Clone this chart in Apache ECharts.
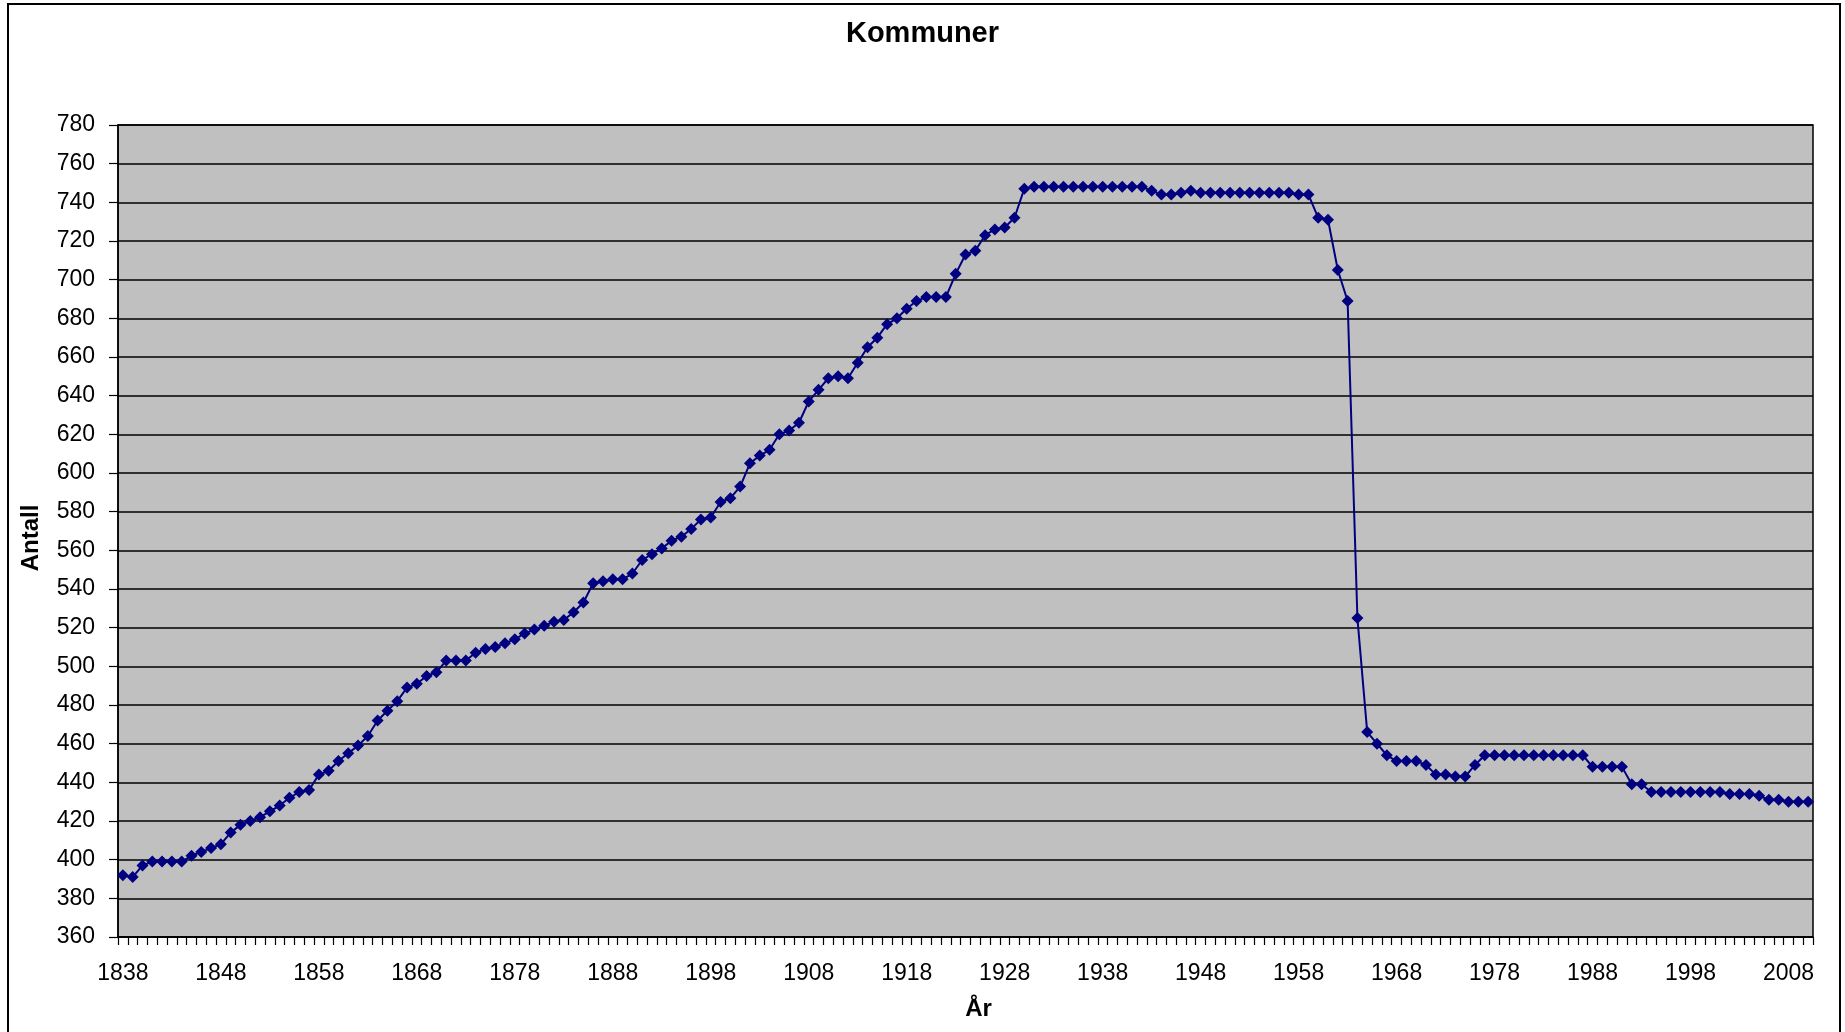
<!DOCTYPE html>
<html>
<head>
    <meta charset="utf-8"/>
    <title>Kommuner</title>
    <style type="text/css">
        html, body { margin: 0; padding: 0; background: #fff; }
        #main { width: 1845px; height: 1032px; }
    </style>
    <script type="text/javascript" src="https://cdn.jsdelivr.net/npm/echarts@6/dist/echarts.min.js"></script>
</head>
<body>
<div id="main"></div>
<script type="text/javascript">
    // år (kategorier)
    var years = [
        '1838','1839','1840','1841','1842','1843','1844','1845','1846','1847',
        '1848','1849','1850','1851','1852','1853','1854','1855','1856','1857',
        '1858','1859','1860','1861','1862','1863','1864','1865','1866','1867',
        '1868','1869','1870','1871','1872','1873','1874','1875','1876','1877',
        '1878','1879','1880','1881','1882','1883','1884','1885','1886','1887',
        '1888','1889','1890','1891','1892','1893','1894','1895','1896','1897',
        '1898','1899','1900','1901','1902','1903','1904','1905','1906','1907',
        '1908','1909','1910','1911','1912','1913','1914','1915','1916','1917',
        '1918','1919','1920','1921','1922','1923','1924','1925','1926','1927',
        '1928','1929','1930','1931','1932','1933','1934','1935','1936','1937',
        '1938','1939','1940','1941','1942','1943','1944','1945','1946','1947',
        '1948','1949','1950','1951','1952','1953','1954','1955','1956','1957',
        '1958','1959','1960','1961','1962','1963','1964','1965','1966','1967',
        '1968','1969','1970','1971','1972','1973','1974','1975','1976','1977',
        '1978','1979','1980','1981','1982','1983','1984','1985','1986','1987',
        '1988','1989','1990','1991','1992','1993','1994','1995','1996','1997',
        '1998','1999','2000','2001','2002','2003','2004','2005','2006','2007',
        '2008','2009','2010'
    ];

    // antall kommuner, 1838 - 2010
    var antall = [
        392, 391, 397, 399, 399, 399, 399, 402, 404, 406,
        408, 414, 418, 420, 422, 425, 428, 432, 435, 436,
        444, 446, 451, 455, 459, 464, 472, 477, 482, 489,
        491, 495, 497, 503, 503, 503, 507, 509, 510, 512,
        514, 517, 519, 521, 523, 524, 528, 533, 543, 544,
        545, 545, 548, 555, 558, 561, 565, 567, 571, 576,
        577, 585, 587, 593, 605, 609, 612, 620, 622, 626,
        637, 643, 649, 650, 649, 657, 665, 670, 677, 680,
        685, 689, 691, 691, 691, 703, 713, 715, 723, 726,
        727, 732, 747, 748, 748, 748, 748, 748, 748, 748,
        748, 748, 748, 748, 748, 746, 744, 744, 745, 746,
        745, 745, 745, 745, 745, 745, 745, 745, 745, 745,
        744, 744, 732, 731, 705, 689, 525, 466, 460, 454,
        451, 451, 451, 449, 444, 444, 443, 443, 449, 454,
        454, 454, 454, 454, 454, 454, 454, 454, 454, 454,
        448, 448, 448, 448, 439, 439, 435, 435, 435, 435,
        435, 435, 435, 435, 434, 434, 434, 433, 431, 431,
        430, 430, 430
    ];

    var yMin = 360, yMax = 780, yStep = 20;

    var myChart = echarts.init(document.getElementById('main'));

    var font = 'Liberation Sans, Arial, sans-serif';

    var option = {
        animation: false,
        backgroundColor: '#fff',
        textStyle: { fontFamily: font, color: '#000' },
        title: {
            text: 'Kommuner',
            left: 'center',
            top: 14,
            padding: [5, 10, 5, 0],
            textStyle: { fontFamily: font, fontSize: 29, fontWeight: 'bold', color: '#000' }
        },
        graphic: [{
            type: 'rect',
            z: -1,
            shape: { x: 8, y: 4, width: 1832, height: 1100 },
            style: { fill: 'none', stroke: '#000', lineWidth: 2 }
        }],
        grid: {
            left: 118,
            right: 32,
            top: 125,
            bottom: 95,
            show: true,
            backgroundColor: '#c0c0c0',
            borderColor: '#000',
            borderWidth: 1.5
        },
        xAxis: {
            type: 'category',
            data: years,
            name: 'År',
            nameLocation: 'middle',
            nameGap: 60,
            nameTextStyle: { fontFamily: font, fontSize: 24, fontWeight: 'bold', color: '#000', padding: [0, 0, 0, 26] },
            axisLine: { lineStyle: { color: '#000', width: 1.5 } },
            axisTick: { show: true, interval: 0, length: 8, lineStyle: { color: '#000', width: 1.2 } },
            axisLabel: { interval: 9, margin: 25, fontFamily: font, fontSize: 23, color: '#000' },
            splitLine: { show: false }
        },
        yAxis: {
            type: 'value',
            min: yMin,
            max: yMax,
            interval: yStep,
            name: 'Antall',
            nameLocation: 'middle',
            nameGap: 75,
            nameTextStyle: { fontFamily: font, fontSize: 24, fontWeight: 'bold', color: '#000', padding: [0, 14, 0, 0] },
            axisLine: { show: true, lineStyle: { color: '#000', width: 1.5 } },
            axisTick: { show: true, length: 9, lineStyle: { color: '#000', width: 1.2 } },
            axisLabel: { margin: 23, fontFamily: font, fontSize: 23, color: '#000' },
            splitLine: { show: true, lineStyle: { color: '#000', width: 1.5 } }
        },
        series: [{
            name: 'Kommuner',
            type: 'line',
            data: antall,
            symbol: 'diamond',
            symbolSize: 12,
            showAllSymbol: true,
            itemStyle: { color: '#000080' },
            lineStyle: { color: '#000080', width: 2 }
        }]
    };

    myChart.setOption(option);
</script>
</body>
</html>
